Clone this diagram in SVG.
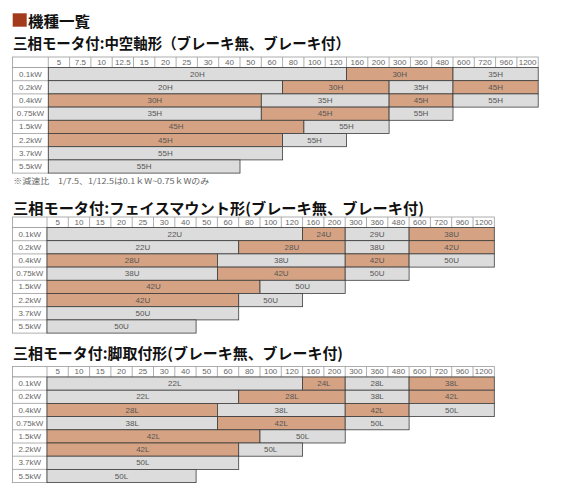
<svg xmlns="http://www.w3.org/2000/svg" width="580" height="491" viewBox="0 0 580 491">
<style>
.hd{fill:#fff;stroke:#9a9a9a;stroke-width:0.8}
.vl{fill:none;stroke:#9a9a9a;stroke-width:0.8}
.g{fill:#dcdcdc;stroke:#3c3c3c;stroke-width:0.8}
.b{fill:#d5a383;stroke:#3c3c3c;stroke-width:0.8}
.t{font-family:"Liberation Sans",Arial,sans-serif;font-size:8px;fill:#666;text-anchor:middle;dominant-baseline:central}
.bt{font-family:"Liberation Sans",Arial,sans-serif;font-size:8px;fill:#555;text-anchor:middle;dominant-baseline:central}
.ttl{font-family:"Noto Sans CJK JP","Noto Sans",sans-serif;font-weight:bold;font-size:15px;fill:#111}
</style>
<rect width="580" height="491" fill="#fff"/>
<g id="heading">
<rect x="12.7" y="13.3" width="14" height="13.4" fill="#a33a1c"/>
<text class="ttl" x="28" y="26.5" font-size="15.5" textLength="62" lengthAdjust="spacingAndGlyphs">機種一覧</text>
</g>

<text class="ttl" x="13" y="49" textLength="337" lengthAdjust="spacingAndGlyphs">三相モータ付:中空軸形（ブレーキ無、ブレーキ付）</text>

<g id="table-hollow" transform="translate(0,57)">
<rect class="hd" x="12.5" y="0" width="525.7" height="10.5"/>
<path class="vl" d="M48.3 0v10.5M69.6 0v10.5M90.9 0v10.5M112.2 0v10.5M133.5 0v10.5M154.8 0v10.5M176.1 0v10.5M197.4 0v10.5M218.7 0v10.5M240 0v10.5M261.3 0v10.5M282.6 0v10.5M303.9 0v10.5M325.2 0v10.5M346.5 0v10.5M367.8 0v10.5M389.1 0v10.5M410.4 0v10.5M431.7 0v10.5M453 0v10.5M474.3 0v10.5M495.6 0v10.5M516.9 0v10.5"/>
<g class="t">
<text class="t" x="59" y="5.25">5</text><text class="t" x="80.3" y="5.25">7.5</text><text class="t" x="101.6" y="5.25">10</text><text class="t" x="122.9" y="5.25">12.5</text><text class="t" x="144.2" y="5.25">15</text><text class="t" x="165.5" y="5.25">20</text><text class="t" x="186.8" y="5.25">25</text><text class="t" x="208.1" y="5.25">30</text><text class="t" x="229.4" y="5.25">40</text><text class="t" x="250.7" y="5.25">50</text><text class="t" x="272" y="5.25">60</text><text class="t" x="293.3" y="5.25">80</text><text class="t" x="314.6" y="5.25">100</text><text class="t" x="335.9" y="5.25">120</text><text class="t" x="357.2" y="5.25">160</text><text class="t" x="378.5" y="5.25">200</text><text class="t" x="399.8" y="5.25">300</text><text class="t" x="421.1" y="5.25">360</text><text class="t" x="442.4" y="5.25">480</text><text class="t" x="463.7" y="5.25">600</text><text class="t" x="485" y="5.25">720</text><text class="t" x="506.3" y="5.25">960</text><text class="t" x="527.6" y="5.25">1200</text>
</g>
<rect class="hd" x="12.5" y="10.5" width="35.8" height="105.6"/>
<path class="vl" d="M12.5 23.7h35.8M12.5 36.9h35.8M12.5 50.1h35.8M12.5 63.3h35.8M12.5 76.5h35.8M12.5 89.7h35.8M12.5 102.9h35.8"/>
<text class="t" x="30.4" y="17.1">0.1kW</text><text class="t" x="30.4" y="30.3">0.2kW</text><text class="t" x="30.4" y="43.5">0.4kW</text><text class="t" x="30.4" y="56.7">0.75kW</text><text class="t" x="30.4" y="69.9">1.5kW</text><text class="t" x="30.4" y="83.1">2.2kW</text><text class="t" x="30.4" y="96.3">3.7kW</text><text class="t" x="30.4" y="109.5">5.5kW</text>
<g id="h-r0"><rect class="g" x="48.3" y="10.5" width="298.2" height="13.2"/><text class="bt" x="197.4" y="17.1">20H</text>
<rect class="b" x="346.5" y="10.5" width="106.5" height="13.2"/><text class="bt" x="399.75" y="17.1">30H</text>
<rect class="g" x="453" y="10.5" width="85.2" height="13.2"/><text class="bt" x="495.6" y="17.1">35H</text></g>
<g id="h-r1"><rect class="g" x="48.3" y="23.7" width="234.3" height="13.2"/><text class="bt" x="165.45" y="30.3">20H</text>
<rect class="b" x="282.6" y="23.7" width="106.5" height="13.2"/><text class="bt" x="335.85" y="30.3">30H</text>
<rect class="g" x="389.1" y="23.7" width="63.9" height="13.2"/><text class="bt" x="421.05" y="30.3">35H</text>
<rect class="b" x="453" y="23.7" width="85.2" height="13.2"/><text class="bt" x="495.6" y="30.3">45H</text></g>
<g id="h-r2"><rect class="b" x="48.3" y="36.9" width="213" height="13.2"/><text class="bt" x="154.8" y="43.5">30H</text>
<rect class="g" x="261.3" y="36.9" width="127.8" height="13.2"/><text class="bt" x="325.2" y="43.5">35H</text>
<rect class="b" x="389.1" y="36.9" width="63.9" height="13.2"/><text class="bt" x="421.05" y="43.5">45H</text>
<rect class="g" x="453" y="36.9" width="85.2" height="13.2"/><text class="bt" x="495.6" y="43.5">55H</text></g>
<g id="h-r3"><rect class="g" x="48.3" y="50.1" width="213" height="13.2"/><text class="bt" x="154.8" y="56.7">35H</text>
<rect class="b" x="261.3" y="50.1" width="127.8" height="13.2"/><text class="bt" x="325.2" y="56.7">45H</text>
<rect class="g" x="389.1" y="50.1" width="63.9" height="13.2"/><text class="bt" x="421.05" y="56.7">55H</text></g>
<g id="h-r4"><rect class="b" x="48.3" y="63.3" width="255.6" height="13.2"/><text class="bt" x="176.1" y="69.9">45H</text>
<rect class="g" x="303.9" y="63.3" width="85.2" height="13.2"/><text class="bt" x="346.5" y="69.9">55H</text></g>
<g id="h-r5"><rect class="b" x="48.3" y="76.5" width="234.3" height="13.2"/><text class="bt" x="165.45" y="83.1">45H</text>
<rect class="g" x="282.6" y="76.5" width="63.9" height="13.2"/><text class="bt" x="314.55" y="83.1">55H</text></g>
<g id="h-r6"><rect class="g" x="48.3" y="89.7" width="234.3" height="13.2"/><text class="bt" x="165.45" y="96.3">55H</text></g>
<g id="h-r7"><rect class="g" x="48.3" y="102.9" width="191.7" height="13.2"/><text class="bt" x="144.15" y="109.5">55H</text></g>
</g>
<text id="footnote" x="13.3" y="180.7" font-family="'Noto Sans CJK JP',sans-serif" font-size="7.5" fill="#666" dominant-baseline="central" textLength="196" lengthAdjust="spacingAndGlyphs">※減速比　1/7.5、1/12.5は0.1ｋW~0.75ｋWのみ</text>

<text class="ttl" x="13" y="214" textLength="411" lengthAdjust="spacingAndGlyphs">三相モータ付:フェイスマウント形(ブレーキ無、ブレーキ付)</text>

<g id="table-face" transform="translate(0,217)">
<rect class="hd" x="12.5" y="0" width="481.8" height="10.5"/>
<path class="vl" d="M47 0v10.5M68.3 0v10.5M89.6 0v10.5M110.9 0v10.5M132.2 0v10.5M153.5 0v10.5M174.8 0v10.5M196.1 0v10.5M217.4 0v10.5M238.7 0v10.5M260 0v10.5M281.3 0v10.5M302.6 0v10.5M323.9 0v10.5M345.2 0v10.5M366.5 0v10.5M387.8 0v10.5M409.1 0v10.5M430.4 0v10.5M451.7 0v10.5M473 0v10.5"/>
<text class="t" x="57.65" y="5.25">5</text><text class="t" x="78.95" y="5.25">10</text><text class="t" x="100.25" y="5.25">15</text><text class="t" x="121.55" y="5.25">20</text><text class="t" x="142.85" y="5.25">25</text><text class="t" x="164.15" y="5.25">30</text><text class="t" x="185.45" y="5.25">40</text><text class="t" x="206.75" y="5.25">50</text><text class="t" x="228.05" y="5.25">60</text><text class="t" x="249.35" y="5.25">80</text><text class="t" x="270.65" y="5.25">100</text><text class="t" x="291.95" y="5.25">120</text><text class="t" x="313.25" y="5.25">160</text><text class="t" x="334.55" y="5.25">200</text><text class="t" x="355.85" y="5.25">300</text><text class="t" x="377.15" y="5.25">360</text><text class="t" x="398.45" y="5.25">480</text><text class="t" x="419.75" y="5.25">600</text><text class="t" x="441.05" y="5.25">720</text><text class="t" x="462.35" y="5.25">960</text><text class="t" x="483.65" y="5.25">1200</text>
<rect class="hd" x="12.5" y="10.5" width="34.5" height="105.6"/>
<path class="vl" d="M12.5 23.7h34.5M12.5 36.9h34.5M12.5 50.1h34.5M12.5 63.3h34.5M12.5 76.5h34.5M12.5 89.7h34.5M12.5 102.9h34.5"/>
<text class="t" x="29.75" y="17.1">0.1kW</text><text class="t" x="29.75" y="30.3">0.2kW</text><text class="t" x="29.75" y="43.5">0.4kW</text><text class="t" x="29.75" y="56.7">0.75kW</text><text class="t" x="29.75" y="69.9">1.5kW</text><text class="t" x="29.75" y="83.1">2.2kW</text><text class="t" x="29.75" y="96.3">3.7kW</text><text class="t" x="29.75" y="109.5">5.5kW</text>
<g id="u-r0"><rect class="g" x="47" y="10.5" width="255.6" height="13.2"/><text class="bt" x="174.8" y="17.1">22U</text>
<rect class="b" x="302.6" y="10.5" width="42.6" height="13.2"/><text class="bt" x="323.9" y="17.1">24U</text>
<rect class="g" x="345.2" y="10.5" width="63.9" height="13.2"/><text class="bt" x="377.15" y="17.1">29U</text>
<rect class="b" x="409.1" y="10.5" width="85.2" height="13.2"/><text class="bt" x="451.7" y="17.1">38U</text></g>
<g id="u-r1"><rect class="g" x="47" y="23.7" width="191.7" height="13.2"/><text class="bt" x="142.85" y="30.3">22U</text>
<rect class="b" x="238.7" y="23.7" width="106.5" height="13.2"/><text class="bt" x="291.95" y="30.3">28U</text>
<rect class="g" x="345.2" y="23.7" width="63.9" height="13.2"/><text class="bt" x="377.15" y="30.3">38U</text>
<rect class="b" x="409.1" y="23.7" width="85.2" height="13.2"/><text class="bt" x="451.7" y="30.3">42U</text></g>
<g id="u-r2"><rect class="b" x="47" y="36.9" width="170.4" height="13.2"/><text class="bt" x="132.2" y="43.5">28U</text>
<rect class="g" x="217.4" y="36.9" width="127.8" height="13.2"/><text class="bt" x="281.3" y="43.5">38U</text>
<rect class="b" x="345.2" y="36.9" width="63.9" height="13.2"/><text class="bt" x="377.15" y="43.5">42U</text>
<rect class="g" x="409.1" y="36.9" width="85.2" height="13.2"/><text class="bt" x="451.7" y="43.5">50U</text></g>
<g id="u-r3"><rect class="g" x="47" y="50.1" width="170.4" height="13.2"/><text class="bt" x="132.2" y="56.7">38U</text>
<rect class="b" x="217.4" y="50.1" width="127.8" height="13.2"/><text class="bt" x="281.3" y="56.7">42U</text>
<rect class="g" x="345.2" y="50.1" width="63.9" height="13.2"/><text class="bt" x="377.15" y="56.7">50U</text></g>
<g id="u-r4"><rect class="b" x="47" y="63.3" width="213" height="13.2"/><text class="bt" x="153.5" y="69.9">42U</text>
<rect class="g" x="260" y="63.3" width="85.2" height="13.2"/><text class="bt" x="302.6" y="69.9">50U</text></g>
<g id="u-r5"><rect class="b" x="47" y="76.5" width="191.7" height="13.2"/><text class="bt" x="142.85" y="83.1">42U</text>
<rect class="g" x="238.7" y="76.5" width="63.9" height="13.2"/><text class="bt" x="270.65" y="83.1">50U</text></g>
<g id="u-r6"><rect class="g" x="47" y="89.7" width="191.7" height="13.2"/><text class="bt" x="142.85" y="96.3">50U</text></g>
<g id="u-r7"><rect class="g" x="47" y="102.9" width="149.1" height="13.2"/><text class="bt" x="121.55" y="109.5">50U</text></g>
</g>

<text class="ttl" x="13" y="359" textLength="330" lengthAdjust="spacingAndGlyphs">三相モータ付:脚取付形(ブレーキ無、ブレーキ付)</text>

<g id="table-foot" transform="translate(0,366.5)">
<rect class="hd" x="12.5" y="0" width="481.8" height="10.5"/>
<path class="vl" d="M47 0v10.5M68.3 0v10.5M89.6 0v10.5M110.9 0v10.5M132.2 0v10.5M153.5 0v10.5M174.8 0v10.5M196.1 0v10.5M217.4 0v10.5M238.7 0v10.5M260 0v10.5M281.3 0v10.5M302.6 0v10.5M323.9 0v10.5M345.2 0v10.5M366.5 0v10.5M387.8 0v10.5M409.1 0v10.5M430.4 0v10.5M451.7 0v10.5M473 0v10.5"/>
<text class="t" x="57.65" y="5.25">5</text><text class="t" x="78.95" y="5.25">10</text><text class="t" x="100.25" y="5.25">15</text><text class="t" x="121.55" y="5.25">20</text><text class="t" x="142.85" y="5.25">25</text><text class="t" x="164.15" y="5.25">30</text><text class="t" x="185.45" y="5.25">40</text><text class="t" x="206.75" y="5.25">50</text><text class="t" x="228.05" y="5.25">60</text><text class="t" x="249.35" y="5.25">80</text><text class="t" x="270.65" y="5.25">100</text><text class="t" x="291.95" y="5.25">120</text><text class="t" x="313.25" y="5.25">160</text><text class="t" x="334.55" y="5.25">200</text><text class="t" x="355.85" y="5.25">300</text><text class="t" x="377.15" y="5.25">360</text><text class="t" x="398.45" y="5.25">480</text><text class="t" x="419.75" y="5.25">600</text><text class="t" x="441.05" y="5.25">720</text><text class="t" x="462.35" y="5.25">960</text><text class="t" x="483.65" y="5.25">1200</text>
<rect class="hd" x="12.5" y="10.5" width="34.5" height="105.6"/>
<path class="vl" d="M12.5 23.7h34.5M12.5 36.9h34.5M12.5 50.1h34.5M12.5 63.3h34.5M12.5 76.5h34.5M12.5 89.7h34.5M12.5 102.9h34.5"/>
<text class="t" x="29.75" y="17.1">0.1kW</text><text class="t" x="29.75" y="30.3">0.2kW</text><text class="t" x="29.75" y="43.5">0.4kW</text><text class="t" x="29.75" y="56.7">0.75kW</text><text class="t" x="29.75" y="69.9">1.5kW</text><text class="t" x="29.75" y="83.1">2.2kW</text><text class="t" x="29.75" y="96.3">3.7kW</text><text class="t" x="29.75" y="109.5">5.5kW</text>
<g id="l-r0"><rect class="g" x="47" y="10.5" width="255.6" height="13.2"/><text class="bt" x="174.8" y="17.1">22L</text>
<rect class="b" x="302.6" y="10.5" width="42.6" height="13.2"/><text class="bt" x="323.9" y="17.1">24L</text>
<rect class="g" x="345.2" y="10.5" width="63.9" height="13.2"/><text class="bt" x="377.15" y="17.1">28L</text>
<rect class="b" x="409.1" y="10.5" width="85.2" height="13.2"/><text class="bt" x="451.7" y="17.1">38L</text></g>
<g id="l-r1"><rect class="g" x="47" y="23.7" width="191.7" height="13.2"/><text class="bt" x="142.85" y="30.3">22L</text>
<rect class="b" x="238.7" y="23.7" width="106.5" height="13.2"/><text class="bt" x="291.95" y="30.3">28L</text>
<rect class="g" x="345.2" y="23.7" width="63.9" height="13.2"/><text class="bt" x="377.15" y="30.3">38L</text>
<rect class="b" x="409.1" y="23.7" width="85.2" height="13.2"/><text class="bt" x="451.7" y="30.3">42L</text></g>
<g id="l-r2"><rect class="b" x="47" y="36.9" width="170.4" height="13.2"/><text class="bt" x="132.2" y="43.5">28L</text>
<rect class="g" x="217.4" y="36.9" width="127.8" height="13.2"/><text class="bt" x="281.3" y="43.5">38L</text>
<rect class="b" x="345.2" y="36.9" width="63.9" height="13.2"/><text class="bt" x="377.15" y="43.5">42L</text>
<rect class="g" x="409.1" y="36.9" width="85.2" height="13.2"/><text class="bt" x="451.7" y="43.5">50L</text></g>
<g id="l-r3"><rect class="g" x="47" y="50.1" width="170.4" height="13.2"/><text class="bt" x="132.2" y="56.7">38L</text>
<rect class="b" x="217.4" y="50.1" width="127.8" height="13.2"/><text class="bt" x="281.3" y="56.7">42L</text>
<rect class="g" x="345.2" y="50.1" width="63.9" height="13.2"/><text class="bt" x="377.15" y="56.7">50L</text></g>
<g id="l-r4"><rect class="b" x="47" y="63.3" width="213" height="13.2"/><text class="bt" x="153.5" y="69.9">42L</text>
<rect class="g" x="260" y="63.3" width="85.2" height="13.2"/><text class="bt" x="302.6" y="69.9">50L</text></g>
<g id="l-r5"><rect class="b" x="47" y="76.5" width="191.7" height="13.2"/><text class="bt" x="142.85" y="83.1">42L</text>
<rect class="g" x="238.7" y="76.5" width="63.9" height="13.2"/><text class="bt" x="270.65" y="83.1">50L</text></g>
<g id="l-r6"><rect class="g" x="47" y="89.7" width="191.7" height="13.2"/><text class="bt" x="142.85" y="96.3">50L</text></g>
<g id="l-r7"><rect class="g" x="47" y="102.9" width="149.1" height="13.2"/><text class="bt" x="121.55" y="109.5">50L</text></g>
</g>
</svg>
